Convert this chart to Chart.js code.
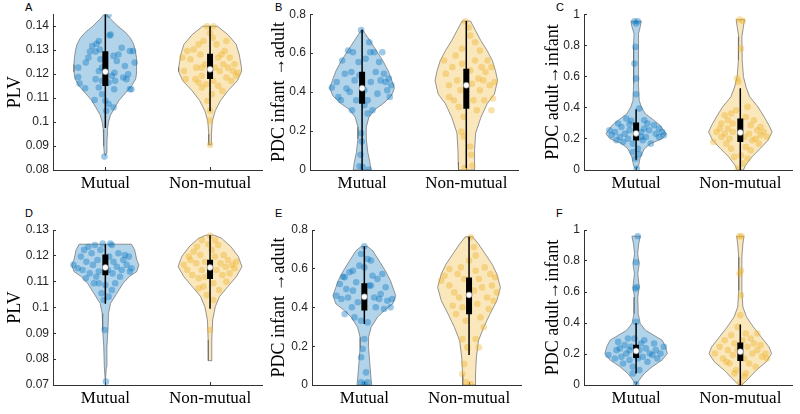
<!DOCTYPE html>
<html>
<head>
<meta charset="utf-8">
<script src="https://cdn.jsdelivr.net/npm/chart.js@4.4.1/dist/chart.umd.min.js"></script>
<style>
  body { margin: 0; background: #fff; width: 800px; height: 414px; position: relative; overflow: hidden; }
  .panel { position: absolute; }
  .tag { position: absolute; font: 11px "Liberation Sans", Arial, sans-serif; color: #000; }
</style>
</head>
<body>
<div class="tag" style="left:25px;top:1px">A</div>
<div class="tag" style="left:275px;top:1px">B</div>
<div class="tag" style="left:556px;top:1px">C</div>
<div class="tag" style="left:25px;top:207px">D</div>
<div class="tag" style="left:275px;top:207px">E</div>
<div class="tag" style="left:556px;top:207px">F</div>

<div class="panel" style="left:0;top:0;width:267px;height:207px"><canvas id="cA"></canvas></div>
<div class="panel" style="left:267px;top:0;width:256px;height:207px"><canvas id="cB"></canvas></div>
<div class="panel" style="left:530px;top:0;width:267px;height:207px"><canvas id="cC"></canvas></div>
<div class="panel" style="left:0;top:207px;width:267px;height:207px"><canvas id="cD"></canvas></div>
<div class="panel" style="left:267px;top:207px;width:259px;height:207px"><canvas id="cE"></canvas></div>
<div class="panel" style="left:530px;top:207px;width:267px;height:207px"><canvas id="cF"></canvas></div>

<script>
"use strict";

const categories = ['Mutual', 'Non-mutual'];

// y tick values per panel
const ticksA = [0.08, 0.09, 0.1, 0.11, 0.12, 0.13, 0.14];
const ticksPDC8 = [0, 0.2, 0.4, 0.6, 0.8];
const ticksPDC1 = [0, 0.2, 0.4, 0.6, 0.8, 1];
const ticksD = [0.07, 0.08, 0.09, 0.1, 0.11, 0.12, 0.13];

// boxes: [whisker low, q1, median, q3, whisker high]
const boxAm = [0.0975, 0.115, 0.121, 0.1295, 0.145];
const boxAn = [0.1045, 0.118, 0.122, 0.1285, 0.14];
const boxBm = [0, 0.34, 0.42, 0.505, 0.72];
const boxBn = [0.01, 0.315, 0.435, 0.52, 0.765];
const boxCm = [0.065, 0.19, 0.235, 0.305, 0.39];
const boxCn = [0, 0.18, 0.24, 0.33, 0.525];
const boxDm = [0.1015, 0.1125, 0.1155, 0.1205, 0.1245];
const boxDn = [0.0995, 0.111, 0.1155, 0.1185, 0.128];
const boxEm = [0.315, 0.385, 0.455, 0.525, 0.715];
const boxEn = [0.155, 0.365, 0.465, 0.555, 0.765];
const boxFm = [0.075, 0.175, 0.22, 0.26, 0.4];
const boxFn = [0, 0.155, 0.215, 0.275, 0.39];

// violin outlines: [value, half width], bottom to top
const violAm = [[0.086,0],[0.087,0.01],[0.09,0.015],[0.094,0.017],[0.097,0.02],[0.1,0.03],[0.103,0.05],[0.106,0.09],[0.109,0.13],[0.112,0.19],[0.115,0.25],[0.118,0.29],[0.121,0.30],[0.124,0.30],[0.127,0.295],[0.13,0.285],[0.1325,0.27],[0.135,0.24],[0.1375,0.19],[0.14,0.12],[0.143,0.05],[0.145,0.012]];
const violAn = [[0.0905,0.012],[0.0915,0.015],[0.093,0.012],[0.095,0.012],[0.1005,0.022],[0.1047,0.05],[0.109,0.10],[0.113,0.17],[0.1172,0.26],[0.121,0.30],[0.1227,0.30],[0.128,0.28],[0.1324,0.25],[0.1365,0.17],[0.14,0.07]];
const violBm = [[0,0.085],[0.04,0.075],[0.09,0.055],[0.16,0.04],[0.22,0.04],[0.27,0.065],[0.31,0.12],[0.34,0.2],[0.38,0.28],[0.42,0.31],[0.46,0.285],[0.51,0.25],[0.56,0.2],[0.61,0.14],[0.66,0.08],[0.70,0.03],[0.72,0.005]];
const violBn = [[0,0.075],[0.04,0.078],[0.1,0.08],[0.19,0.09],[0.27,0.14],[0.34,0.2],[0.39,0.27],[0.46,0.3],[0.51,0.28],[0.562,0.25],[0.613,0.2],[0.664,0.14],[0.715,0.09],[0.765,0.04]];
const violCm = [[0,0],[0.03,0.025],[0.083,0.04],[0.137,0.08],[0.17,0.14],[0.2,0.25],[0.233,0.29],[0.255,0.265],[0.287,0.23],[0.32,0.17],[0.36,0.09],[0.405,0.05],[0.447,0.03],[0.555,0.022],[0.66,0.025],[0.79,0.025],[0.875,0.02],[0.92,0.04],[0.955,0.05]];
const violCn = [[0,0.03],[0.03,0.05],[0.083,0.11],[0.137,0.19],[0.19,0.265],[0.245,0.305],[0.287,0.275],[0.34,0.23],[0.405,0.17],[0.47,0.09],[0.533,0.055],[0.6,0.03],[0.705,0.018],[0.855,0.015],[0.92,0.03],[0.965,0.04]];
const violDm = [[0.0713,0],[0.0771,0.01],[0.0848,0.015],[0.0913,0.025],[0.0977,0.03],[0.1016,0.05],[0.1055,0.11],[0.1094,0.17],[0.112,0.23],[0.1139,0.30],[0.1165,0.32],[0.1184,0.30],[0.1223,0.28],[0.1245,0.25]];
const violDn = [[0.0794,0.018],[0.081,0.015],[0.0874,0.018],[0.0952,0.025],[0.1003,0.05],[0.1042,0.09],[0.1081,0.17],[0.1119,0.25],[0.1158,0.305],[0.1197,0.27],[0.1235,0.2],[0.1268,0.11],[0.128,0.04]];
const violEm = [[0,0.07],[0.057,0.06],[0.126,0.05],[0.194,0.04],[0.246,0.04],[0.298,0.065],[0.35,0.125],[0.384,0.19],[0.418,0.27],[0.461,0.3],[0.538,0.25],[0.59,0.2],[0.642,0.14],[0.693,0.08],[0.715,0.03]];
const violEn = [[0,0.06],[0.057,0.062],[0.143,0.07],[0.229,0.09],[0.298,0.14],[0.366,0.2],[0.435,0.265],[0.504,0.3],[0.573,0.265],[0.624,0.22],[0.676,0.155],[0.728,0.09],[0.765,0.035]];
const violFm = [[0,0],[0.032,0.03],[0.075,0.08],[0.118,0.155],[0.161,0.25],[0.203,0.3],[0.25,0.28],[0.289,0.25],[0.321,0.17],[0.353,0.09],[0.396,0.04],[0.46,0.02],[0.567,0.016],[0.632,0.03],[0.718,0.016],[0.782,0.03],[0.846,0.015],[0.91,0.025],[0.96,0.04]];
const violFn = [[0,0.015],[0.043,0.08],[0.096,0.155],[0.15,0.25],[0.203,0.3],[0.246,0.275],[0.31,0.2],[0.375,0.125],[0.439,0.06],[0.503,0.025],[0.61,0.015],[0.824,0.015],[0.91,0.025],[0.96,0.035]];

// individual points: [value, jitter]
const ptsAm = [[0.1448,0.031],[0.0856,-0.009],[0.1227,-0.259],[0.1188,-0.259],[0.1161,-0.246],[0.1141,-0.193],[0.1248,-0.187],[0.1269,-0.162],[0.1294,-0.146],[0.1317,-0.125],[0.1294,-0.093],[0.1327,-0.084],[0.1338,-0.062],[0.1303,-0.053],[0.1262,-0.047],[0.1227,-0.031],[0.1213,-0.062],[0.1179,-0.093],[0.1092,-0.103],[0.1144,-0.062],[0.1116,-0.031],[0.1089,0],[0.1047,0.009],[0.1075,0.031],[0.1061,0.078],[0.1137,0.084],[0.1172,0.093],[0.1193,0.062],[0.1206,0.087],[0.1255,0.109],[0.1282,0.125],[0.1361,0.040],[0.1365,0.050],[0.1276,0.078],[0.1310,0.156],[0.1234,0.187],[0.1199,0.218],[0.1296,0.234],[0.1296,0.265],[0.1248,0.280],[0.1137,0.234],[0.1137,0.249],[0.1186,0.171],[0.1179,0.202],[0.1172,-0.031],[0.1165,0.031]];
const ptsAn = [[0.14,-0.031],[0.14,0.031],[0.0905,0],[0.1269,-0.265],[0.1213,-0.249],[0.1179,-0.234],[0.1296,-0.218],[0.1262,-0.187],[0.1303,-0.156],[0.1227,-0.131],[0.1324,-0.109],[0.1282,-0.093],[0.1193,-0.078],[0.1338,-0.062],[0.1241,-0.047],[0.1144,-0.078],[0.1158,-0.037],[0.1089,-0.025],[0.1047,0],[0.1116,0.016],[0.1172,0.031],[0.1227,0.047],[0.1324,0.062],[0.1269,0.078],[0.1213,0.093],[0.1282,0.109],[0.1241,0.125],[0.1296,0.140],[0.1186,0.156],[0.1227,0.171],[0.1269,0.187],[0.1172,0.202],[0.1213,0.218],[0.1241,0.234],[0.1193,0.249],[0.1206,0.265],[0.1352,0.025],[0.1372,0],[0.1006,0],[0.1165,-0.109],[0.1179,-0.140],[0.1151,0.078],[0.1130,0.118],[0.1227,-0.078],[0.1338,0.156]];
const ptsBm = [[0.423,-0.29],[0.452,-0.244],[0.375,-0.228],[0.358,-0.203],[0.562,-0.191],[0.494,-0.166],[0.418,-0.150],[0.613,-0.134],[0.401,-0.119],[0.503,-0.103],[0.605,-0.088],[0.460,-0.072],[0.358,-0.056],[0.554,-0.034],[0.486,-0.025],[0.718,-0.009],[0.409,0.022],[0.571,0.034],[0.358,0.053],[0.656,0.069],[0.605,0.078],[0.452,0.084],[0.307,0.1],[0.605,0.116],[0.503,0.131],[0.392,0.147],[0.554,0.163],[0.460,0.178],[0.605,0.194],[0.494,0.209],[0.452,0.225],[0.409,0.241],[0.469,0.256],[0.375,0.266],[0.435,0.281],[0.189,-0.009],[0.146,-0.003],[0.078,-0.016],[0.019,-0.025],[0.015,0.006],[0.002,0.063],[0.333,0.022],[0.307,-0.097],[0.290,0.053]];
const ptsBn = [[0.763,-0.009],[0.732,0.022],[0.690,0.037],[0.622,-0.041],[0.588,-0.103],[0.562,-0.213],[0.494,-0.197],[0.435,-0.166],[0.528,-0.134],[0.358,-0.119],[0.460,-0.088],[0.324,-0.072],[0.409,-0.056],[0.545,-0.041],[0.273,-0.025],[0.197,-0.047],[0.172,-0.025],[0.121,0.037],[0.078,0.047],[0.022,0.059],[0.010,-0.016],[0.511,0.037],[0.443,0.053],[0.358,0.069],[0.562,0.084],[0.307,0.1],[0.469,0.116],[0.409,0.131],[0.528,0.147],[0.460,0.163],[0.358,0.172],[0.503,0.184],[0.562,0.203],[0.435,0.225],[0.528,0.241],[0.367,0.256],[0.452,0.272],[0.307,0.241],[0.613,0.131],[0.656,0.084],[0.375,-0.166]];
const ptsCm = [[0.955,-0.016],[0.955,0.016],[0.94,0],[0.79,-0.006],[0.683,-0.016],[0.587,0],[0.486,0],[0.394,0.031],[0.33,-0.094],[0.315,-0.047],[0.319,0.078],[0.298,0.109],[0.255,0.125],[0.287,0.172],[0.233,0.188],[0.212,0.219],[0.244,0.25],[0.223,0.266],[0.169,0.141],[0.212,0.094],[0.191,0.063],[0.244,0.047],[0.255,-0.063],[0.201,-0.078],[0.233,-0.109],[0.18,-0.125],[0.212,-0.156],[0.191,-0.188],[0.244,-0.203],[0.223,-0.234],[0.255,-0.256],[0.276,-0.141],[0.298,-0.172],[0.169,-0.031],[0.137,0.016],[0.101,0.031],[0.073,-0.006],[0.009,0.006],[0.116,-0.031],[0.266,0.078],[0.293,-0.063],[0.212,0.047],[0.266,0.219]];
const ptsCn = [[0.966,-0.009],[0.957,0.022],[0.779,0.006],[0.587,-0.031],[0.565,-0.019],[0.383,-0.041],[0.405,0.069],[0.351,-0.15],[0.319,-0.119],[0.298,-0.072],[0.34,0.053],[0.287,0.1],[0.319,0.131],[0.255,0.163],[0.223,0.194],[0.244,0.225],[0.212,0.256],[0.233,0.084],[0.191,0.116],[0.212,0.038],[0.148,0.053],[0.126,0.1],[0.073,0.069],[0.041,0.022],[0.009,-0.025],[0.084,-0.056],[0.137,-0.088],[0.169,-0.134],[0.212,-0.181],[0.244,-0.228],[0.18,-0.259],[0.266,-0.197],[0.233,-0.15],[0.201,-0.103],[0.244,-0.072],[0.266,-0.119],[0.298,-0.181],[0.362,-0.088],[0.201,0.147],[0.169,0.178],[0.094,0.006],[0.276,0.194]];
const ptsDm = [[0.1165,-0.305],[0.1152,-0.265],[0.1197,-0.234],[0.1145,-0.218],[0.1223,-0.203],[0.1177,-0.181],[0.1235,-0.162],[0.1132,-0.15],[0.121,-0.131],[0.1165,-0.118],[0.1242,-0.1],[0.1119,-0.087],[0.1184,-0.075],[0.1094,-0.062],[0.1223,-0.047],[0.1055,-0.037],[0.1248,-0.025],[0.0913,-0.006],[0.0713,0.006],[0.1145,0.025],[0.1197,0.037],[0.1248,0.047],[0.1068,0.062],[0.1132,0.069],[0.1177,0.078],[0.1094,0.094],[0.1158,0.109],[0.121,0.125],[0.1119,0.14],[0.1145,0.156],[0.1184,0.172],[0.1203,0.187],[0.1165,0.203],[0.1139,0.234],[0.1152,0.25],[0.1197,0.225],[0.1042,0.031],[0.1029,-0.016],[0.1139,-0.062],[0.1094,-0.109],[0.1113,-0.187],[0.1242,0.062],[0.1087,0]];
const ptsDn = [[0.1278,0],[0.1245,-0.016],[0.1223,0.016],[0.1165,-0.25],[0.1145,-0.218],[0.1197,-0.203],[0.1126,-0.171],[0.1216,-0.156],[0.1171,-0.131],[0.1113,-0.109],[0.1203,-0.093],[0.1145,-0.078],[0.1081,-0.062],[0.1177,-0.047],[0.1048,-0.031],[0.0913,0],[0.1094,0.031],[0.1197,0.047],[0.1145,0.062],[0.1242,0.078],[0.1068,0.087],[0.1171,0.1],[0.1126,0.118],[0.1203,0.131],[0.1158,0.15],[0.1184,0.171],[0.1132,0.187],[0.1165,0.212],[0.1152,0.234],[0.1177,0.25],[0.1100,0.156],[0.1235,-0.125],[0.1261,-0.078],[0.1261,0.047],[0.1184,-0.187],[0.1119,-0.047],[0.1074,-0.109],[0.1029,0.031]];
const ptsEm = [[0.716,0],[0.676,-0.031],[0.65,0.031],[0.642,0.063],[0.616,-0.047],[0.59,-0.109],[0.582,-0.141],[0.556,-0.188],[0.559,-0.203],[0.521,-0.234],[0.495,-0.172],[0.461,-0.266],[0.444,-0.219],[0.452,-0.156],[0.487,-0.109],[0.53,-0.078],[0.427,-0.063],[0.401,-0.119],[0.366,-0.188],[0.349,-0.094],[0.332,-0.031],[0.323,0.031],[0.513,0.063],[0.564,0.078],[0.452,0.094],[0.401,0.109],[0.547,0.125],[0.444,0.141],[0.47,0.156],[0.573,0.172],[0.392,0.188],[0.504,0.203],[0.435,0.219],[0.401,0.25],[0.444,0.266],[0.237,0],[0.186,-0.016],[0.143,-0.031],[0.065,0.016],[0.014,-0.031],[0.005,0],[0.014,0.031],[0.513,0.047],[0.607,0]];
const ptsEn = [[0.762,0.016],[0.711,0.047],[0.668,0.063],[0.564,-0.234],[0.538,-0.266],[0.513,-0.188],[0.478,-0.141],[0.573,-0.109],[0.607,-0.078],[0.547,-0.047],[0.409,-0.156],[0.366,-0.125],[0.452,-0.094],[0.401,-0.063],[0.332,-0.031],[0.237,-0.063],[0.194,-0.016],[0.108,-0.047],[0.057,-0.063],[0.014,-0.031],[0.005,0.016],[0.487,0.047],[0.59,0.063],[0.418,0.078],[0.547,0.094],[0.349,0.109],[0.504,0.125],[0.607,0.15],[0.452,0.172],[0.392,0.188],[0.573,0.203],[0.513,0.219],[0.435,0.234],[0.556,0.25],[0.478,0.266],[0.298,0.141],[0.237,0.063],[0.194,0.094],[0.599,-0.188],[0.642,0]];
const ptsFm = [[0.96,0.016],[0.792,0],[0.632,0.006],[0.621,-0.006],[0.407,0],[0.193,-0.266],[0.171,-0.203],[0.278,-0.172],[0.236,-0.156],[0.182,-0.141],[0.139,-0.125],[0.257,-0.109],[0.203,-0.094],[0.3,-0.078],[0.161,-0.063],[0.246,-0.047],[0.118,-0.031],[0.3,-0.016],[0.225,0.031],[0.268,0.047],[0.182,0.063],[0.289,0.078],[0.236,0.094],[0.15,0.109],[0.203,0.131],[0.193,0.156],[0.268,0.172],[0.225,0.188],[0.171,0.203],[0.203,0.234],[0.246,0.266],[0.075,-0.031],[0.006,0],[0.096,0.031],[0.225,-0.063],[0.171,0.016],[0.225,-0.188]];
const ptsFn = [[0.96,-0.009],[0.96,0.013],[0.739,0.006],[0.717,-0.006],[0.578,0.006],[0.45,0],[0.375,-0.025],[0.203,-0.244],[0.246,-0.197],[0.171,-0.166],[0.289,-0.15],[0.225,-0.119],[0.139,-0.103],[0.321,-0.088],[0.193,-0.072],[0.268,-0.056],[0.096,-0.041],[0.225,-0.025],[0.289,0.022],[0.171,0.038],[0.332,0.053],[0.246,0.069],[0.139,0.084],[0.3,0.1],[0.203,0.116],[0.268,0.131],[0.118,0.147],[0.225,0.163],[0.257,0.194],[0.182,0.209],[0.203,0.241],[0.171,0.256],[0.054,0.038],[0.011,0],[0.075,-0.056],[0.15,-0.134],[0.075,0.053],[0.332,0.163]];

const BLUE = [0, 114, 189];
const GOLD = [237, 177, 32];
const rgba = (c, a) => `rgba(${c[0]},${c[1]},${c[2]},${a})`;

function groupDatasets(center, color, outline, pts, box) {
  const right = outline.map(([v, w]) => ({ x: center + w, y: v }));
  const left = outline.slice().reverse().map(([v, w]) => ({ x: center - w, y: v }));
  const shape = right.concat(left, [right[0]]);
  return [
    {
      data: shape,
      showLine: true,
      fill: 'shape',
      backgroundColor: rgba(color, 0.3),
      borderColor: 'rgba(110,110,110,0.9)',
      borderWidth: 0.8,
      pointRadius: 0,
      order: 5
    },
    {
      data: pts.map(([v, j]) => ({ x: center + j, y: v })),
      pointRadius: 3.3,
      pointBackgroundColor: rgba(color, 0.38),
      pointBorderWidth: 0,
      order: 4
    },
    {
      data: [{ x: center, y: box[0] }, { x: center, y: box[4] }],
      showLine: true,
      borderColor: '#000',
      borderWidth: 1.5,
      pointRadius: 0,
      order: 3
    },
    {
      data: [{ x: center, y: box[1] }, { x: center, y: box[3] }],
      showLine: true,
      borderColor: '#000',
      borderWidth: 6,
      borderCapStyle: 'butt',
      pointRadius: 0,
      order: 2
    },
    {
      data: [{ x: center, y: box[2] }],
      pointRadius: 3,
      pointBackgroundColor: '#fff',
      pointBorderColor: '#777',
      pointBorderWidth: 0.6,
      order: 1
    }
  ];
}

// inward tick marks like the original axes
const axisGrid = { display: true, drawOnChartArea: false, drawTicks: true, tickLength: -3, color: '#333', lineWidth: 1 };

function makeChart(id, p) {
  new Chart(document.getElementById(id), {
    type: 'scatter',
    data: {
      datasets: [
        ...groupDatasets(1, BLUE, p.violM, p.ptsM, p.boxM),
        ...groupDatasets(2, GOLD, p.violN, p.ptsN, p.boxN)
      ]
    },
    options: {
      responsive: true,
      maintainAspectRatio: false,
      animation: false,
      events: [],
      layout: { padding: { top: p.top, bottom: p.bottom, left: 0, right: 0 } },
      plugins: { legend: { display: false }, tooltip: { enabled: false } },
      scales: {
        x: {
          type: 'linear',
          min: 0.5,
          max: 2.5,
          afterBuildTicks: (s) => { s.ticks = [{ value: 1 }, { value: 2 }]; },
          afterFit: (s) => { s.height = 29; },
          ticks: {
            callback: (v) => categories[v - 1] || '',
            font: { family: '"Liberation Serif", "Times New Roman", serif', size: 17 },
            color: '#000',
            padding: 6,
            maxRotation: 0,
            autoSkip: false
          },
          grid: axisGrid,
          border: { color: '#333', width: 1 }
        },
        y: {
          type: 'linear',
          min: p.min,
          max: p.max,
          afterBuildTicks: (s) => { s.ticks = p.ticks.map((v) => ({ value: v })); },
          afterFit: (s) => { s.width = p.yw; },
          ticks: {
            callback: (v) => String(+v.toFixed(4)),
            font: { family: '"Liberation Sans", Arial, sans-serif', size: 12 },
            color: '#262626',
            padding: 7
          },
          title: {
            display: true,
            text: p.title,
            font: { family: '"Liberation Serif", "Times New Roman", serif', size: 18 },
            color: '#000',
            padding: { top: p.tpad, bottom: 0 }
          },
          grid: axisGrid,
          border: { color: '#333', width: 1 }
        }
      }
    }
  });
}

makeChart('cA', { title: 'PLV', min: 0.08, max: 0.145, ticks: ticksA, yw: 53, tpad: 4, top: 13, bottom: 8,
  violM: violAm, ptsM: ptsAm, boxM: boxAm, violN: violAn, ptsN: ptsAn, boxN: boxAn });
makeChart('cB', { title: 'PDC infant \u2192adult', min: 0, max: 0.8, ticks: ticksPDC8, yw: 43, tpad: 1, top: 13, bottom: 8,
  violM: violBm, ptsM: ptsBm, boxM: boxBm, violN: violBn, ptsN: ptsBn, boxN: boxBn });
makeChart('cC', { title: 'PDC adult\u2192infant', min: 0, max: 1, ticks: ticksPDC1, yw: 54, tpad: 12, top: 14, bottom: 8,
  violM: violCm, ptsM: ptsCm, boxM: boxCm, violN: violCn, ptsN: ptsCn, boxN: boxCn });
makeChart('cD', { title: 'PLV', min: 0.07, max: 0.13, ticks: ticksD, yw: 53, tpad: 4, top: 23, bottom: 0,
  violM: violDm, ptsM: ptsDm, boxM: boxDm, violN: violDn, ptsN: ptsDn, boxN: boxDn });
makeChart('cE', { title: 'PDC infant \u2192adult', min: 0, max: 0.8, ticks: ticksPDC8, yw: 45, tpad: 1, top: 23, bottom: 0,
  violM: violEm, ptsM: ptsEm, boxM: boxEm, violN: violEn, ptsN: ptsEn, boxN: boxEn });
makeChart('cF', { title: 'PDC adult\u2192infant', min: 0, max: 1, ticks: ticksPDC1, yw: 54, tpad: 12, top: 23, bottom: 0,
  violM: violFm, ptsM: ptsFm, boxM: boxFm, violN: violFn, ptsN: ptsFn, boxN: boxFn });
</script>
</body>
</html>
